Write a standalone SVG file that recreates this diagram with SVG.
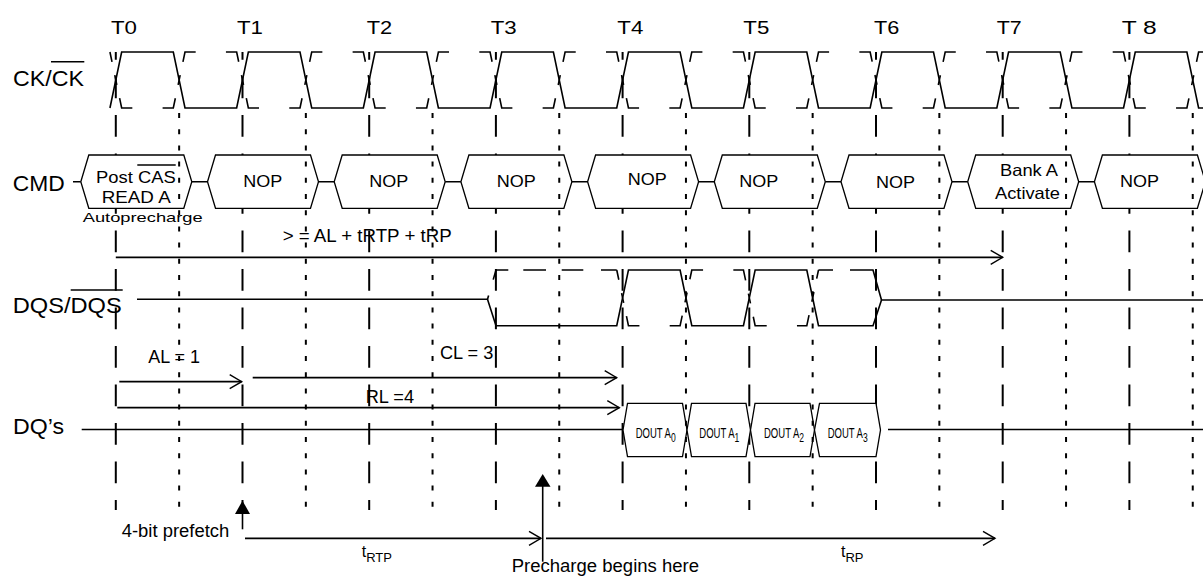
<svg xmlns="http://www.w3.org/2000/svg" width="1203" height="576" viewBox="0 0 1203 576">
<defs>
<style>
text{font-family:"Liberation Sans",Arial,Helvetica,sans-serif;fill:#000}
.lbl{font-size:21.5px}
.tl{font-size:19px}
.cmd{font-size:16.5px}
.ap{font-size:13px}
.ann{font-size:17.5px}
.dout{font-size:15px}
.sub{font-size:13.5px}
.tt{font-size:16px}
.tsub{font-size:13px}
.tm{stroke:#000;stroke-width:2;stroke-dasharray:21.7 16.8;stroke-dashoffset:14;fill:none}
.hm{stroke:#000;stroke-width:2;stroke-dasharray:5 11.2;fill:none}
.sig{stroke:#000;stroke-width:1.6;fill:none}
.dsig{stroke:#000;stroke-width:1.6;fill:none;stroke-dasharray:10 13.6 10 13.6 20.7 30.25 10.7 0}
.box{stroke:#000;stroke-width:1.3;fill:#fff}
.ln{stroke:#000;stroke-width:1.6;fill:none}
.arr{stroke:#000;stroke-width:1.8;fill:none;marker-end:url(#open)}
.ov{stroke:#000;stroke-width:1.5}
</style>
<marker id="open" markerUnits="userSpaceOnUse" markerWidth="16" markerHeight="18" refX="13" refY="8" orient="auto">
<path d="M1,1 L13,8 L1,15" fill="none" stroke="#000" stroke-width="1.4"/>
</marker>
</defs>
<rect width="1203" height="576" fill="#fff"/>

<!-- clock cycle labels -->
<g id="cycle-labels">
<text class="tl" x="111" y="34" textLength="26" lengthAdjust="spacingAndGlyphs">T0</text>
<text class="tl" x="237" y="34" textLength="26" lengthAdjust="spacingAndGlyphs">T1</text>
<text class="tl" x="366.7" y="34" textLength="25.5" lengthAdjust="spacingAndGlyphs">T2</text>
<text class="tl" x="490.7" y="34" textLength="26" lengthAdjust="spacingAndGlyphs">T3</text>
<text class="tl" x="617.3" y="34" textLength="26" lengthAdjust="spacingAndGlyphs">T4</text>
<text class="tl" x="743.3" y="34" textLength="26" lengthAdjust="spacingAndGlyphs">T5</text>
<text class="tl" x="874" y="34" textLength="25.3" lengthAdjust="spacingAndGlyphs">T6</text>
<text class="tl" x="996.7" y="34" textLength="25" lengthAdjust="spacingAndGlyphs">T7</text>
<text class="tl" x="1121.7" y="34" textLength="35" lengthAdjust="spacingAndGlyphs">T 8</text>
</g>

<!-- row labels -->
<g id="row-labels">
<text class="lbl" x="13" y="85.7" textLength="71" lengthAdjust="spacingAndGlyphs">CK/CK</text>
<line class="ov" x1="51" y1="61.7" x2="84.3" y2="61.7"/>
<text class="lbl" x="12.7" y="190.7" textLength="52" lengthAdjust="spacingAndGlyphs">CMD</text>
<text class="lbl" x="12.7" y="313.3" textLength="109" lengthAdjust="spacingAndGlyphs">DQS/DQS</text>
<line class="ov" x1="70.7" y1="290" x2="122.7" y2="290"/>
<text class="lbl" x="13" y="433.5" textLength="51" lengthAdjust="spacingAndGlyphs">DQ’s</text>
</g>

<!-- clock-edge markers (long dashes) -->
<g id="edge-markers">
<line class="tm" x1="115.8" y1="52" x2="115.8" y2="510"/>
<line class="tm" x1="242.5" y1="52" x2="242.5" y2="510"/>
<line class="tm" x1="369.2" y1="52" x2="369.2" y2="510"/>
<line class="tm" x1="495.9" y1="52" x2="495.9" y2="510"/>
<line class="tm" x1="622.6" y1="52" x2="622.6" y2="510"/>
<line class="tm" x1="749.3" y1="52" x2="749.3" y2="510"/>
<line class="tm" x1="876" y1="52" x2="876" y2="510"/>
<line class="tm" x1="1002.7" y1="52" x2="1002.7" y2="510"/>
<line class="tm" x1="1129.4" y1="52" x2="1129.4" y2="510"/>
</g>

<!-- CK / CK# -->
<g id="clock">
<path class="sig" d="M109.95,108 l11.7,-56 h51.65 l11.7,56 h51.65 l11.7,-56 h51.65 l11.7,56 h51.65 l11.7,-56 h51.65 l11.7,56 h51.65 l11.7,-56 h51.65 l11.7,56 h51.65 l11.7,-56 h51.65 l11.7,56 h51.65 l11.7,-56 h51.65 l11.7,56 h51.65 l11.7,-56 h51.65 l11.7,56 h51.65 l11.7,-56 h51.65 l11.7,56 h51.65 l11.7,-56 h51.65 l11.7,56 h51.65"/>
<path class="dsig" d="M109.95,52 l11.7,56 h51.65 l11.7,-56 h51.65 l11.7,56 h51.65 l11.7,-56 h51.65 l11.7,56 h51.65 l11.7,-56 h51.65 l11.7,56 h51.65 l11.7,-56 h51.65 l11.7,56 h51.65 l11.7,-56 h51.65 l11.7,56 h51.65 l11.7,-56 h51.65 l11.7,56 h51.65 l11.7,-56 h51.65 l11.7,56 h51.65 l11.7,-56 h51.65 l11.7,56 h51.65 l11.7,-56 h51.65"/>
</g>

<!-- CMD bus -->
<g id="cmd-bus">
<path class="ln" d="M73,181.7H80.8 M191.8,181.7H207.5 M318.5,181.7H334.2 M445.2,181.7H460.9 M571.9,181.7H587.6 M698.6,181.7H714.3 M825.3,181.7H841 M952,181.7H967.7 M1078.7,181.7H1094.4"/>
</g>
<g id="cmd-read">
<polygon class="box" points="80.8,181.7 88.8,155 183.8,155 191.8,181.7 183.8,208.3 88.8,208.3"/>
<text class="cmd" x="96" y="182.7" textLength="79.7" lengthAdjust="spacingAndGlyphs">Post CAS</text>
<line class="ov" x1="137.3" y1="165" x2="175.7" y2="165"/>
<text class="cmd" x="101.7" y="202.7" textLength="69" lengthAdjust="spacingAndGlyphs">READ A</text>
<text class="ap" x="82.7" y="221.7" textLength="120" lengthAdjust="spacingAndGlyphs">Autoprecharge</text>
</g>
<g id="cmd-nop1">
<polygon class="box" points="207.5,181.7 215.5,155 310.5,155 318.5,181.7 310.5,208.3 215.5,208.3"/>
<text class="cmd" x="243.3" y="186.7" textLength="39" lengthAdjust="spacingAndGlyphs">NOP</text>
</g>
<g id="cmd-nop2">
<polygon class="box" points="334.2,181.7 342.2,155 437.2,155 445.2,181.7 437.2,208.3 342.2,208.3"/>
<text class="cmd" x="369.3" y="186.7" textLength="39" lengthAdjust="spacingAndGlyphs">NOP</text>
</g>
<g id="cmd-nop3">
<polygon class="box" points="460.9,181.7 468.9,155 563.9,155 571.9,181.7 563.9,208.3 468.9,208.3"/>
<text class="cmd" x="496.7" y="186.7" textLength="39" lengthAdjust="spacingAndGlyphs">NOP</text>
</g>
<g id="cmd-nop4">
<polygon class="box" points="587.6,181.7 595.6,155 690.6,155 698.6,181.7 690.6,208.3 595.6,208.3"/>
<text class="cmd" x="627.7" y="185" textLength="39" lengthAdjust="spacingAndGlyphs">NOP</text>
</g>
<g id="cmd-nop5">
<polygon class="box" points="714.3,181.7 722.3,155 817.3,155 825.3,181.7 817.3,208.3 722.3,208.3"/>
<text class="cmd" x="739.3" y="186.7" textLength="39" lengthAdjust="spacingAndGlyphs">NOP</text>
</g>
<g id="cmd-nop6">
<polygon class="box" points="841,181.7 849,155 944,155 952,181.7 944,208.3 849,208.3"/>
<text class="cmd" x="876" y="187.7" textLength="39" lengthAdjust="spacingAndGlyphs">NOP</text>
</g>
<g id="cmd-activate">
<polygon class="box" points="967.7,181.7 975.7,155 1070.7,155 1078.7,181.7 1070.7,208.3 975.7,208.3"/>
<text class="cmd" x="1000" y="175.7" textLength="58" lengthAdjust="spacingAndGlyphs">Bank A</text>
<text class="cmd" x="995" y="199.3" textLength="65" lengthAdjust="spacingAndGlyphs">Activate</text>
</g>
<g id="cmd-nop7">
<polygon class="box" points="1094.4,181.7 1102.4,155 1197.4,155 1205.4,181.7 1197.4,208.3 1102.4,208.3"/>
<text class="cmd" x="1120" y="187" textLength="39" lengthAdjust="spacingAndGlyphs">NOP</text>
</g>

<!-- DQS / DQS# -->
<g id="dqs">
<path class="sig" d="M137,299.3 H487.5 L496,325.7 H616.75 l11.7,-55.7 h51.65 l11.7,55.7 h51.65 l11.7,-55.7 h51.65 l11.7,55.7 H873 L881.5,300 H1203"/>
<line class="sig" x1="487.5" y1="299.3" x2="496" y2="270" stroke-dasharray="4 16.5 10"/>
<path class="sig" d="M496,270H508.3 M523.3,270H546 M561.7,270H583.3 M601,270H616.75"/>
<path class="dsig" d="M616.75,270 l11.7,55.7 h51.65 l11.7,-55.7 h51.65 l11.7,55.7 h51.65 l11.7,-55.7"/>
<path class="sig" d="M818.4,270H833 M850,270H873 L881.5,300"/>
</g>

<!-- DQ bus -->
<g id="dq-bus">
<path class="ln" d="M81.7,429.5H623 M888,429.5H1203"/>
</g>
<g id="dout-a0">
<polygon class="box" points="623,430 627.5,403.3 682.5,403.3 687,430 682.5,456.7 627.5,456.7"/>
<text class="dout" transform="translate(635.7,437.7) scale(0.635,1)">DOUT A<tspan class="sub" dy="4">0</tspan></text>
</g>
<g id="dout-a1">
<polygon class="box" points="687,430 691.5,403.3 746,403.3 750.5,430 746,456.7 691.5,456.7"/>
<text class="dout" transform="translate(699.3,437.7) scale(0.635,1)">DOUT A<tspan class="sub" dy="4">1</tspan></text>
</g>
<g id="dout-a2">
<polygon class="box" points="750.5,430 755,403.3 810,403.3 814.5,430 810,456.7 755,456.7"/>
<text class="dout" transform="translate(764,437.7) scale(0.635,1)">DOUT A<tspan class="sub" dy="4">2</tspan></text>
</g>
<g id="dout-a3">
<polygon class="box" points="814.5,430 819.5,403.3 876,403.3 880.5,430 876,456.7 819.5,456.7"/>
<text class="dout" transform="translate(827.7,437.7) scale(0.635,1)">DOUT A<tspan class="sub" dy="4">3</tspan></text>
</g>

<!-- half-cycle markers (short dashes) -->
<g id="half-markers">
<line class="hm" x1="179.15" y1="113" x2="179.15" y2="510"/>
<line class="hm" x1="305.85" y1="113" x2="305.85" y2="510"/>
<line class="hm" x1="432.55" y1="113" x2="432.55" y2="510"/>
<line class="hm" x1="559.25" y1="113" x2="559.25" y2="510"/>
<line class="hm" x1="685.95" y1="113" x2="685.95" y2="510"/>
<line class="hm" x1="812.65" y1="113" x2="812.65" y2="510"/>
<line class="hm" x1="939.35" y1="113" x2="939.35" y2="510"/>
<line class="hm" x1="1066.05" y1="113" x2="1066.05" y2="510"/>
<line class="hm" x1="1192.75" y1="113" x2="1192.75" y2="510"/>
</g>

<!-- timing connectors -->
<g id="connectors">
<path class="arr" d="M115.8,257.3 H1002.7"/>
<path class="arr" d="M119.3,381.7 H241.7"/>
<path class="arr" d="M252.7,377.7 H616.7"/>
<path class="arr" d="M117.3,407.7 H619.3"/>
<path class="arr" d="M245,538.3 H541"/>
<path class="arr" d="M546,538.3 H995"/>
<line class="ln" x1="242.5" y1="529.3" x2="242.5" y2="512" stroke-width="2"/>
<polygon points="242.5,500.7 235,514 250,514" fill="#000"/>
<line class="ln" x1="542.7" y1="561.7" x2="542.7" y2="485" stroke-width="2"/>
<polygon points="542.7,474 535,486.7 550.5,486.7" fill="#000"/>
</g>

<!-- annotations -->
<g id="annotations">
<text class="ann" x="282.7" y="241.7" textLength="169" lengthAdjust="spacingAndGlyphs">&gt; = AL + tRTP + tRP</text>
<text class="ann" x="148.3" y="363.3" textLength="51.7" lengthAdjust="spacingAndGlyphs">AL = 1</text>
<text class="ann" x="440" y="359.3" textLength="53.3" lengthAdjust="spacingAndGlyphs">CL = 3</text>
<text class="ann" x="365.7" y="402.7" textLength="48.3" lengthAdjust="spacingAndGlyphs">RL =4</text>
<text class="ann" x="121.7" y="537.3" textLength="107.6" lengthAdjust="spacingAndGlyphs">4-bit prefetch</text>
<text class="tt" x="361.7" y="557.3">t<tspan class="tsub" dy="4.7">RTP</tspan></text>
<text class="tt" x="841" y="557.3">t<tspan class="tsub" dy="4.7">RP</tspan></text>
<text class="ann" x="511.7" y="571.5" textLength="187.3" lengthAdjust="spacingAndGlyphs">Precharge begins here</text>
</g>
</svg>
